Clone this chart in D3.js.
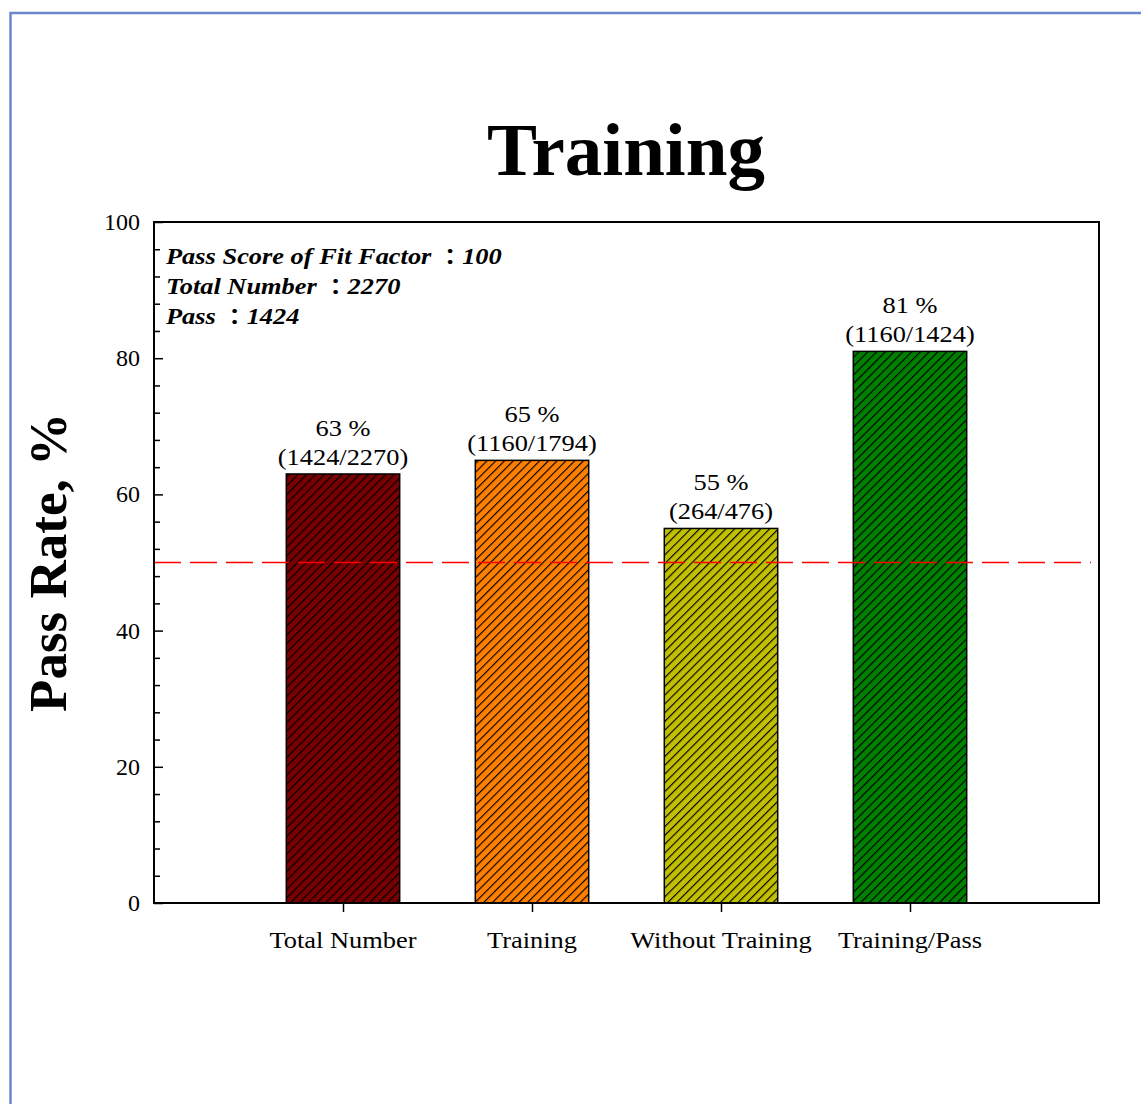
<!DOCTYPE html>
<html>
<head>
<meta charset="utf-8">
<script src="https://cdn.jsdelivr.net/npm/d3@7"></script>
<style>
  body { margin: 0; background: #fff; }
  svg { display: block; }
</style>
</head>
<body>
<div id="viz"></div>
<script>
// Chart data
const categories = ["Total Number", "Training", "Without Training", "Training/Pass"];
const passRates = [63, 65, 55, 81];
const ratioLabels = ["(1424/2270)", "(1160/1794)", "(264/476)", "(1160/1424)"];
const barColors = ["#780000", "#ff8000", "#c0c000", "#008000"];
const yTicks = [0, 20, 40, 60, 80, 100];
const noteKeys = ["Pass Score of Fit Factor ", "Total Number ", "Pass "];
const noteValues = ["100", "2270", "1424"];
const refLine = 50;

const dims = {
    width: 1141,
    height: 1104,
    margin: { top: 222, right: 42, bottom: 201, left: 154 }
};
const plotRight = dims.width - dims.margin.right;
const plotBottom = dims.height - dims.margin.bottom;
const serif = "'Liberation Serif', 'Times New Roman', serif";
const stretch = 1.1; // the original labels are drawn a bit wider than normal

const svg = d3.select("#viz")
    .append("svg")
    .attr("width", dims.width)
    .attr("height", dims.height);

// outer blue frame
svg.append("path")
    .attr("d", `M${dims.width + 5},13 H10.5 V${dims.height + 5}`)
    .attr("fill", "none")
    .attr("stroke", "#6a86cc")
    .attr("stroke-width", 2.5);

// hatch patterns, one per bar colour
const defs = svg.append("defs");
const hatch = 6.2;
barColors.forEach((c, i) => {
    const p = defs.append("pattern")
        .attr("id", "hatch" + i)
        .attr("patternUnits", "userSpaceOnUse")
        .attr("width", hatch)
        .attr("height", hatch)
        .attr("patternTransform", "rotate(45)");
    p.append("rect").attr("width", hatch).attr("height", hatch).attr("fill", c);
    p.append("line")
        .attr("x1", 0).attr("y1", 0).attr("x2", 0).attr("y2", hatch)
        .attr("stroke", "black")
        .attr("stroke-width", 2.3);
});

// scales
const x = d3.scaleLinear()
    .domain([0, categories.length + 1])
    .range([dims.margin.left, plotRight]);
const y = d3.scaleLinear()
    .domain([0, 100])
    .range([plotBottom, dims.margin.top]);
const slot = x(1) - x(0);
const barW = slot * 0.6;

// title
svg.append("text")
    .attr("x", 626)
    .attr("y", 175)
    .attr("text-anchor", "middle")
    .attr("font-family", serif)
    .attr("font-weight", "bold")
    .attr("font-size", 75)
    .text("Training");

// y axis label
svg.append("text")
    .attr("transform", `translate(66, ${y(50)}) rotate(-90)`)
    .attr("text-anchor", "middle")
    .attr("font-family", serif)
    .attr("font-weight", "bold")
    .attr("font-size", 53)
    .text("Pass Rate, %");

// bars
svg.selectAll("rect.bar")
    .data(passRates)
    .enter()
    .append("rect")
    .attr("class", "bar")
    .attr("x", (d, i) => x(i + 1) - barW / 2)
    .attr("y", d => y(d))
    .attr("width", barW)
    .attr("height", d => y(0) - y(d))
    .attr("fill", (d, i) => `url(#hatch${i})`)
    .attr("stroke", "black")
    .attr("stroke-width", 1.5);

// value labels
const labels = svg.append("g")
    .attr("font-family", serif)
    .attr("font-size", 24)
    .attr("text-anchor", "middle");
passRates.forEach((d, i) => {
    labels.append("text")
        .attr("transform", `translate(${x(i + 1)},${y(d) - 38}) scale(${stretch},1)`)
        .text(d + " %");
    labels.append("text")
        .attr("transform", `translate(${x(i + 1)},${y(d) - 9}) scale(${stretch},1)`)
        .text(ratioLabels[i]);
});

// reference dashed line at 50 %
svg.append("line")
    .attr("x1", dims.margin.left)
    .attr("x2", 1091)
    .attr("y1", y(refLine))
    .attr("y2", y(refLine))
    .attr("stroke", "red")
    .attr("stroke-width", 1.5)
    .attr("stroke-dasharray", "27,9");

// plot frame
svg.append("rect")
    .attr("x", dims.margin.left)
    .attr("y", dims.margin.top)
    .attr("width", plotRight - dims.margin.left)
    .attr("height", plotBottom - dims.margin.top)
    .attr("fill", "none")
    .attr("stroke", "black")
    .attr("stroke-width", 2);

// y axis: ticks pointing inward
const yAxis = svg.append("g")
    .attr("transform", `translate(${dims.margin.left},0)`)
    .call(d3.axisRight(y).tickValues(d3.range(0, 101, 4)).tickSize(6).tickFormat(""));
yAxis.select(".domain").remove();
yAxis.selectAll("line").attr("stroke", "black").attr("stroke-width", 1.5);
yAxis.selectAll(".tick").filter(d => d % 20 === 0).select("line").attr("x2", 9);

svg.append("g")
    .attr("font-family", serif)
    .attr("font-size", 24)
    .attr("text-anchor", "end")
    .selectAll("text")
    .data(yTicks)
    .enter()
    .append("text")
    .attr("x", 140)
    .attr("y", d => y(d) + 8)
    .text(d => d);

// x axis: ticks pointing outward
const xAxis = svg.append("g")
    .attr("transform", `translate(0,${plotBottom})`)
    .call(d3.axisBottom(x).tickValues(d3.range(1, categories.length + 1)).tickSize(9).tickFormat(""));
xAxis.select(".domain").remove();
xAxis.selectAll("line").attr("stroke", "black").attr("stroke-width", 1.5);

svg.append("g")
    .attr("font-family", serif)
    .attr("font-size", 24)
    .attr("text-anchor", "middle")
    .selectAll("text")
    .data(categories)
    .enter()
    .append("text")
    .attr("transform", (d, i) => `translate(${x(i + 1)},948) scale(${stretch},1)`)
    .text(d => d);

// annotation
const notes = svg.append("g")
    .attr("font-family", serif)
    .attr("font-size", 24)
    .attr("font-weight", "bold")
    .attr("font-style", "italic")
    .selectAll("text")
    .data(noteKeys)
    .enter()
    .append("text")
    .attr("transform", (d, i) => `translate(166,${264 + i * 30}) scale(${stretch},1)`);
notes.append("tspan").text(d => d);
notes.append("tspan")
    .attr("font-family", "'Noto Sans CJK TC'")
    .attr("font-style", "normal")
    .attr("font-size", 22)
    .text("\uff1a");
notes.append("tspan").text((d, i) => noteValues[i]);
</script>
</body>
</html>
